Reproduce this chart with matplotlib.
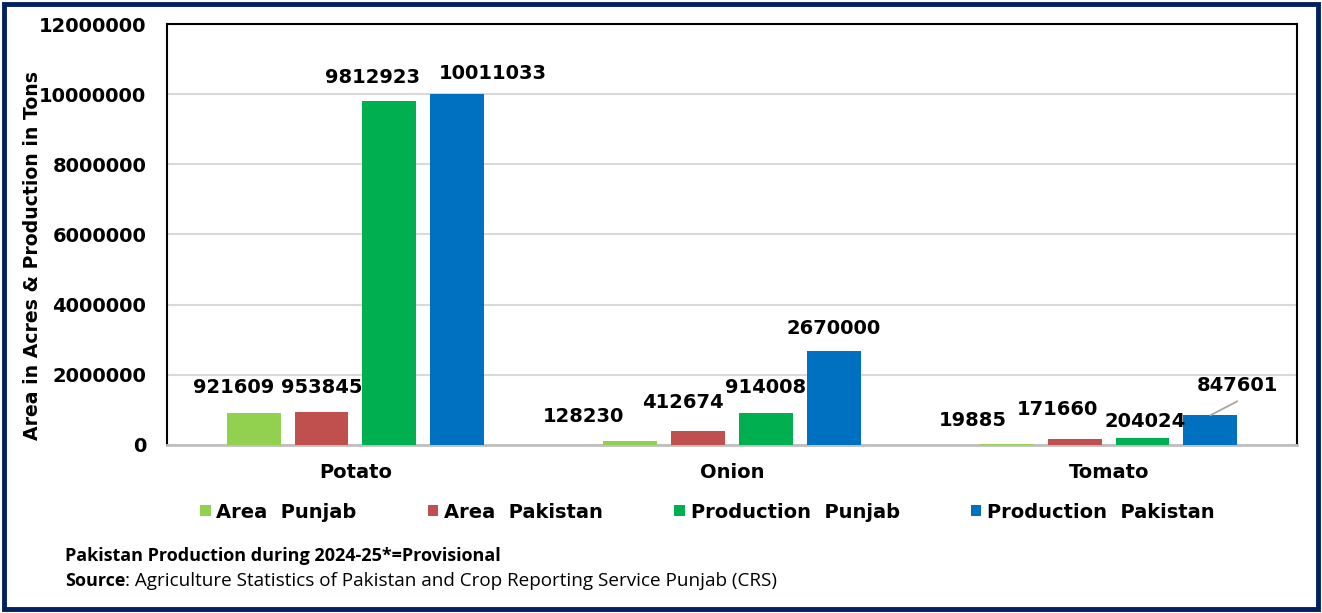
import matplotlib.pyplot as plt
from matplotlib.patches import Rectangle
import numpy as np


# Daten
CROPS = ["Potato", "Onion", "Tomato"]
SERIES = ["Area  Punjab", "Area  Pakistan", "Production  Punjab", "Production  Pakistan"]
AREA_PUNJAB = [921609, 128230, 19885]
AREA_PAKISTAN = [953845, 412674, 171660]
PROD_PUNJAB = [9812923, 914008, 204024]
PROD_PAKISTAN = [10011033, 2670000, 847601]
YTICKS = [0, 2000000, 4000000, 6000000, 8000000, 10000000, 12000000]

# Plot-Einstellungen
COLORS = ["#92D050", "#C0504D", "#00B050", "#0070C0"]
BAR_W = 0.143
STEP = 0.18
DPI = 100

# Label-Verschiebung in Pixeln (dx, dy) je Serie und Kultur
LABEL_OFFSETS = [
    [(-20, 25), (-47, 24), (-34, 24)],
    [(0, 24), (-15, 28), (-17, 29)],
    [(-17, 23), (0, 25), (3, 16)],
    [(36, 20), (0, 23), (27, 30)],
]

plt.rcParams["font.family"] = ["DejaVu Sans"]

fig = plt.figure(figsize=(13.22, 6.13), dpi=DPI)
ax = fig.add_axes([167 / 1322, 1 - 445 / 613, 1130 / 1322, 421 / 613])

x = np.arange(len(CROPS))
all_values = [AREA_PUNJAB, AREA_PAKISTAN, PROD_PUNJAB, PROD_PAKISTAN]
handles = []
for i, (vals, color, name) in enumerate(zip(all_values, COLORS, SERIES)):
    pos = x + (i - 1.5) * STEP
    bars = ax.bar(pos, vals, BAR_W, color=color, label=name, zorder=3)
    handles.append(bars)
    for j, (bx, v) in enumerate(zip(pos, vals)):
        dx, dy = LABEL_OFFSETS[i][j]
        ax.annotate(
            f"{v}",
            xy=(bx, v),
            xytext=(dx, dy),
            textcoords="offset pixels",
            ha="center",
            va="center",
            fontsize=14,
            fontweight="bold",
            zorder=5,
        )
        # Führungslinie (nur Tomato / Production Pakistan)
        if i == 3 and j == 2:
            ax.annotate(
                "",
                xy=(bx, v),
                xytext=(27, 14),
                textcoords="offset pixels",
                arrowprops=dict(arrowstyle="-", color="#A6A6A6", lw=1.3,
                                shrinkA=0, shrinkB=0),
                zorder=5,
            )

ax.set_xlim(-0.5, 2.5)
ax.set_ylim(0, 12000000)
ax.set_yticks(YTICKS)
ax.set_yticklabels([str(t) for t in YTICKS], fontsize=14, fontweight="bold")
ax.set_xticks(x)
ax.set_xticklabels(CROPS, fontsize=14, fontweight="bold")
ax.tick_params(axis="y", length=0, pad=15)
ax.tick_params(axis="x", length=0, pad=13)
ax.grid(axis="y", color="#D9D9D9", lw=1.5, zorder=0)
for s in ax.spines.values():
    s.set_color("black")
    s.set_linewidth(1.5)
ax.spines["bottom"].set_color("#BFBFBF")
ax.spines["bottom"].set_linewidth(2)

ax.set_ylabel("Area in Acres & Production in Tons", fontsize=13.6,
              fontweight="bold")
ax.yaxis.set_label_coords(-125 / 1130, (445 - 255) / 421)

# Legende
fig.legend(
    handles=handles,
    labels=SERIES,
    loc="center",
    bbox_to_anchor=(0.535, 1 - 512 / 613),
    ncol=4,
    frameon=False,
    prop=dict(size=14, weight="bold"),
    handlelength=0.55,
    handleheight=0.55,
    handletextpad=0.3,
    columnspacing=3.65,
)

# Fußnoten
NOTE_FONT = ["Liberation Sans Narrow", "Open Sans", "DejaVu Sans"]
fig.text(65 / 1322, 1 - 556 / 613, "Pakistan Production during 2024-25*=Provisional",
         fontsize=13, fontweight="bold", family=NOTE_FONT, va="center")
t = fig.text(65 / 1322, 1 - 581 / 613, "Source", fontsize=13, fontweight="bold",
             family=NOTE_FONT, va="center")
fig.canvas.draw()
bb = t.get_window_extent()
fig.text(bb.x1 / 1322, 1 - 581 / 613,
         ": Agriculture Statistics of Pakistan and Crop Reporting Service Punjab (CRS)",
         fontsize=13.6, family=NOTE_FONT, va="center")

# Rahmen
fig.patches.append(Rectangle((4 / 1322, 4 / 613), 1314 / 1322, 605 / 613,
                             transform=fig.transFigure, fill=False,
                             edgecolor="#002060", lw=3.5))

fig.savefig("out.png", dpi=DPI)
plt.close(fig)
